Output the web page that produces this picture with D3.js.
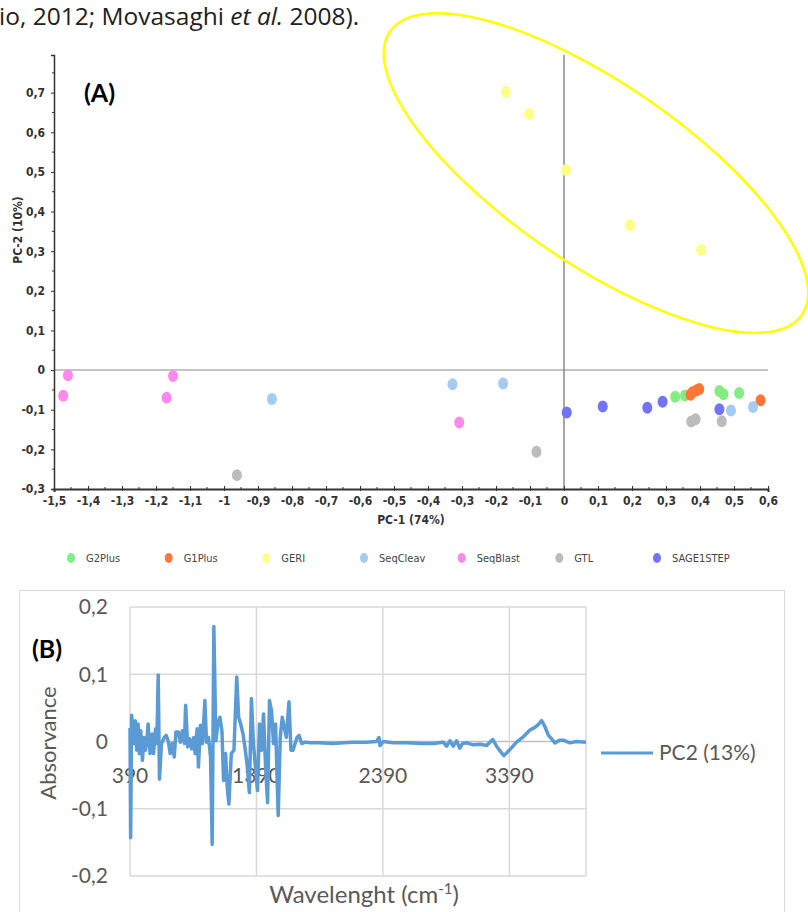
<!DOCTYPE html>
<html>
<head>
<meta charset="utf-8">
<script src="https://cdn.jsdelivr.net/npm/d3@7"></script>
<style>
  body { margin: 0; background: #fff; }
  svg { display: block; }
  .axA text { font-family: "Liberation Sans Narrow", "DejaVu Sans Condensed", sans-serif; font-weight: bold; font-size: 12px; fill: #333; }
  .axA path, .axA line { stroke: #333; }
  .lbl { font-family: Lato, "Open Sans", sans-serif; }
</style>
</head>
<body>
<script>
// ---- panel A : PCA scores (PC-1, PC-2) ----
var groups = ["G2Plus", "G1Plus", "GERI", "SeqCleav", "SeqBlast", "GTL", "SAGE1STEP"];
var groupColors = ["#82ee82", "#ff7637", "#ffff88", "#a6cbf0", "#ff88ee", "#bcbcbc", "#7373f7"];

var g2plus = [[0.327, -0.067], [0.356, -0.064], [0.457, -0.053], [0.469, -0.061], [0.515, -0.058]];
var g1plus = [[0.372, -0.062], [0.378, -0.056], [0.390, -0.051], [0.398, -0.048], [0.578, -0.076]];
var geri = [[-0.171, 0.702], [-0.103, 0.646], [0.006, 0.505], [0.194, 0.366], [0.403, 0.303]];
var seqcleav = [[-0.859, -0.073], [-0.328, -0.036], [-0.179, -0.034], [0.491, -0.102], [0.556, -0.093]];
var seqblast = [[-1.473, -0.065], [-1.459, -0.013], [-1.169, -0.070], [-1.150, -0.015], [-0.308, -0.132]];
var gtl = [[-0.962, -0.265], [-0.081, -0.206], [0.374, -0.130], [0.387, -0.124], [0.464, -0.129]];
var sage1step = [[0.008, -0.107], [0.114, -0.092], [0.245, -0.095], [0.290, -0.080], [0.457, -0.099]];
var scores = [g2plus, g1plus, geri, seqcleav, seqblast, gtl, sage1step];

var pc1Ticks = [-1.5, -1.4, -1.3, -1.2, -1.1, -1, -0.9, -0.8, -0.7, -0.6, -0.5, -0.4, -0.3, -0.2, -0.1, 0, 0.1, 0.2, 0.3, 0.4, 0.5, 0.6];
var pc2Ticks = [-0.3, -0.2, -0.1, 0, 0.1, 0.2, 0.3, 0.4, 0.5, 0.6, 0.7];
var geriEllipse = {pc1: 0.094, pc2: 0.497};   // centre of the hand drawn ring

// ---- panel B : PC2 loading spectrum ----
var wavelength = [390, 395, 403, 422, 432, 443, 454, 464, 475, 488, 501, 512, 523, 533, 549, 565, 576, 592, 602, 613,
  623, 639, 661, 676, 692, 708, 724, 740, 753, 772, 788, 804, 820, 830, 846, 862, 878, 894, 905, 921,
  931, 947, 963, 982, 995, 1011, 1027, 1040, 1053, 1069, 1085, 1101, 1117, 1130, 1146, 1159, 1172, 1191, 1212, 1234,
  1249, 1265, 1284, 1302, 1318, 1334, 1350, 1366, 1382, 1398, 1414, 1430, 1446, 1462, 1478, 1493, 1509, 1525, 1541, 1562,
  1578, 1594, 1610, 1626, 1647, 1663, 1679, 1695, 1711, 1727, 1748, 1775, 1787, 1814, 1880, 1996, 2080, 2153, 2260, 2340,
  2359, 2367, 2393, 2470, 2578, 2700, 2788, 2867, 2893, 2920, 2946, 2972, 2998, 3020, 3052, 3105, 3160, 3210, 3258, 3289,
  3320, 3347, 3394, 3447, 3500, 3553, 3592, 3618, 3645, 3671, 3697, 3750, 3790, 3816, 3868, 3921, 3996];
var absorbance = [0.020, -0.143, 0.039, -0.003, 0.031, -0.013, 0.026, -0.018, 0.016, -0.028, 0.006, -0.013, 0.000, 0.026, -0.018, 0.011, -0.018, 0.019, -0.003, 0.099,
  -0.056, -0.003, 0.006, 0.009, 0.001, -0.018, -0.003, -0.023, 0.014, 0.014, -0.001, 0.016, -0.003, 0.054, -0.008, 0.004, -0.011, 0.006, -0.018, 0.019,
  -0.038, 0.024, -0.003, 0.061, -0.001, 0.006, -0.023, -0.153, 0.171, 0.001, 0.026, 0.036, 0.016, -0.058, -0.018, -0.068, -0.093, -0.018, -0.013, 0.096,
  0.036, 0.026, 0.011, -0.013, -0.038, -0.076, 0.064, -0.003, -0.038, -0.073, 0.026, -0.013, 0.041, -0.038, -0.091, 0.061, 0.046, -0.003, 0.026, -0.110,
  0.006, 0.036, 0.021, 0.006, 0.059, -0.013, -0.013, -0.003, 0.006, 0.009, -0.003, -0.001, -0.001, -0.002, -0.002, -0.003, -0.002, -0.001, -0.001, 0.000,
  0.006, -0.006, 0.000, -0.002, -0.002, -0.003, -0.003, -0.001, -0.007, 0.001, -0.007, 0.001, -0.010, -0.003, -0.002, -0.005, -0.004, -0.006, 0.003, -0.007,
  -0.015, -0.021, -0.012, -0.001, 0.007, 0.017, 0.021, 0.025, 0.031, 0.022, 0.010, -0.002, 0.002, 0.002, -0.002, 0.000, -0.001];
var wlTicks = [390, 1390, 2390, 3390];
var absTicks = [-0.2, -0.1, 0, 0.1, 0.2];
var seriesName = "PC2 (13%)";

var locale = d3.formatLocale({decimal: ",", thousands: ".", grouping: [3], currency: ["", ""], minus: "-"});
var fmt = locale.format(".1~f");

var svg = d3.select("body").append("svg").attr("width", 808).attr("height", 912);
svg.append("rect").attr("width", 808).attr("height", 912).attr("fill", "#fff");

// running text from the page above the figure
var cap = svg.append("text").attr("x", -1).attr("y", 25)
  .style("font-family", "'Open Sans', Lato, sans-serif").style("font-size", "24.5px").attr("fill", "#222");
cap.append("tspan").text("io, 2012; Movasaghi ");
cap.append("tspan").style("font-style", "italic").text("et al.");
cap.append("tspan").text(" 2008).");

// ===== panel A =====
var x = d3.scaleLinear().domain([-1.5, 0.6]).range([54, 768]);
var y = d3.scaleLinear().domain([-0.3, 0.795]).range([489, 55]);

var gA = svg.append("g");

gA.append("line").attr("x1", x(-1.5)).attr("x2", x(0.6)).attr("y1", y(0)).attr("y2", y(0))
  .attr("stroke", "#c4c4c4").attr("stroke-width", 2);
gA.append("line").attr("x1", x(0)).attr("x2", x(0)).attr("y1", y(0.795)).attr("y2", y(-0.3))
  .attr("stroke", "#8a8a8a").attr("stroke-width", 1.5);

var xAxis = gA.append("g").attr("class", "axA").attr("transform", "translate(0," + y(-0.3) + ")")
  .call(d3.axisBottom(x).tickValues(pc1Ticks).tickFormat(fmt).tickSize(3).tickPadding(4));
xAxis.select(".domain").attr("stroke-width", 2);
xAxis.selectAll(".tick line").attr("y1", -3).attr("y2", 2);
xAxis.selectAll(".minor").data(d3.range(-1.45, 0.6, 0.1)).enter().append("line")
  .attr("x1", function(d) { return x(d); }).attr("x2", function(d) { return x(d); })
  .attr("y1", -2).attr("y2", 1).attr("stroke", "#333");

var yAxis = gA.append("g").attr("class", "axA").attr("transform", "translate(" + x(-1.5) + ",0)")
  .call(d3.axisLeft(y).tickValues(pc2Ticks).tickFormat(fmt).tickSize(3).tickPadding(6));
yAxis.select(".domain").attr("stroke-width", 1.5);
yAxis.selectAll(".minor").data(d3.range(-0.25, 0.79, 0.1)).enter().append("line")
  .attr("x1", -2).attr("x2", 0)
  .attr("y1", function(d) { return y(d); }).attr("y2", function(d) { return y(d); })
  .attr("stroke", "#333");

gA.append("text").attr("x", 411).attr("y", 524).attr("text-anchor", "middle")
  .style("font-family", "'Liberation Sans Narrow', 'DejaVu Sans Condensed', sans-serif")
  .style("font-weight", "bold").style("font-size", "12px").attr("fill", "#333").text("PC-1 (74%)");
gA.append("text").attr("transform", "translate(22,230) rotate(-90)").attr("text-anchor", "middle")
  .style("font-family", "'Liberation Sans Narrow', 'DejaVu Sans Condensed', sans-serif")
  .style("font-weight", "bold").style("font-size", "12px").attr("fill", "#333").text("PC-2 (10%)");

scores.forEach(function(pts, i) {
  gA.append("g").selectAll("ellipse").data(pts).enter().append("ellipse")
    .attr("cx", function(d) { return x(d[0]); })
    .attr("cy", function(d) { return y(d[1]); })
    .attr("rx", 5).attr("ry", 6)
    .attr("fill", groupColors[i]);
});

gA.append("ellipse")
  .attr("transform", "translate(" + x(geriEllipse.pc1) + "," + y(geriEllipse.pc2) + ") rotate(34.5)")
  .attr("rx", 250).attr("ry", 90)
  .attr("fill", "none").attr("stroke", "#ffff00").attr("stroke-width", 2.5);

gA.append("text").attr("class", "lbl").attr("x", 84).attr("y", 102)
  .style("font-size", "25px").style("font-weight", "bold").attr("fill", "#000").text("(A)");

// legend A
var legA = d3.scalePoint().domain(groups).range([71, 657]);
var lg = gA.append("g").selectAll("g").data(groups).enter().append("g")
  .attr("transform", function(d) { return "translate(" + legA(d) + ",558)"; });
lg.append("ellipse").attr("rx", 4).attr("ry", 5)
  .attr("fill", function(d, i) { return groupColors[i]; });
lg.append("text").attr("x", 15).attr("dy", "0.35em")
  .style("font-family", "'Liberation Sans Narrow', 'DejaVu Sans Condensed', sans-serif")
  .style("font-size", "11px").attr("fill", "#444").text(function(d) { return d; });

// ===== panel B =====
var gB = svg.append("g");
gB.append("rect").attr("x", 19.5).attr("y", 590.5).attr("width", 765).attr("height", 340)
  .attr("fill", "#fff").attr("stroke", "#d9d9d9");

var xb = d3.scaleLinear().domain([390, 3996]).range([130, 586]);
var yb = d3.scaleLinear().domain([-0.2, 0.2]).range([876, 607]);

gB.append("g").selectAll("line").data(absTicks).enter().append("line")
  .attr("x1", xb(390)).attr("x2", xb(3996))
  .attr("y1", function(d) { return yb(d); }).attr("y2", function(d) { return yb(d); })
  .attr("stroke", function(d) { return d === 0 ? "#bfbfbf" : "#d9d9d9"; }).attr("stroke-width", 1.5);
gB.append("g").selectAll("line").data(wlTicks.concat([3996])).enter().append("line")
  .attr("x1", function(d) { return xb(d); }).attr("x2", function(d) { return xb(d); })
  .attr("y1", yb(0.2)).attr("y2", yb(-0.2))
  .attr("stroke", "#d9d9d9").attr("stroke-width", 1.5);

gB.append("g").selectAll("text").data(absTicks).enter().append("text").attr("class", "lbl")
  .attr("x", 108).attr("y", function(d) { return yb(d); }).attr("dy", "0.35em")
  .attr("text-anchor", "end").style("font-size", "21px").attr("fill", "#595959")
  .text(function(d) { return fmt(d); });
gB.append("g").selectAll("text").data(wlTicks).enter().append("text").attr("class", "lbl")
  .attr("x", function(d) { return xb(d); }).attr("y", 783)
  .attr("text-anchor", "middle").style("font-size", "21px").attr("fill", "#595959")
  .text(function(d) { return d; });

var spectrum = wavelength.map(function(w, i) { return [w, absorbance[i]]; });
var line = d3.line().x(function(d) { return xb(d[0]); }).y(function(d) { return yb(d[1]); });
gB.append("path").attr("d", line(spectrum)).attr("fill", "none")
  .attr("stroke", "#5b9bd5").attr("stroke-width", 3.5).attr("stroke-linejoin", "round");

gB.append("text").attr("class", "lbl").attr("transform", "translate(56,743) rotate(-90)")
  .attr("text-anchor", "middle").style("font-size", "22px").attr("fill", "#595959").text("Absorvance");
var xt = gB.append("text").attr("class", "lbl").attr("x", 364).attr("y", 903)
  .attr("text-anchor", "middle").style("font-size", "24px").attr("fill", "#595959");
xt.append("tspan").text("Wavelenght (cm");
xt.append("tspan").attr("dy", -9).style("font-size", "15px").text("-1");
xt.append("tspan").attr("dy", 9).text(")");

gB.append("text").attr("class", "lbl").attr("x", 32).attr("y", 658)
  .style("font-size", "25px").style("font-weight", "bold").attr("fill", "#000").text("(B)");

gB.append("line").attr("x1", 601).attr("x2", 653).attr("y1", 753).attr("y2", 753)
  .attr("stroke", "#5b9bd5").attr("stroke-width", 3);
gB.append("text").attr("class", "lbl").attr("x", 659).attr("y", 753).attr("dy", "0.35em")
  .style("font-size", "21px").attr("fill", "#595959").text(seriesName);
</script>
</body>
</html>
